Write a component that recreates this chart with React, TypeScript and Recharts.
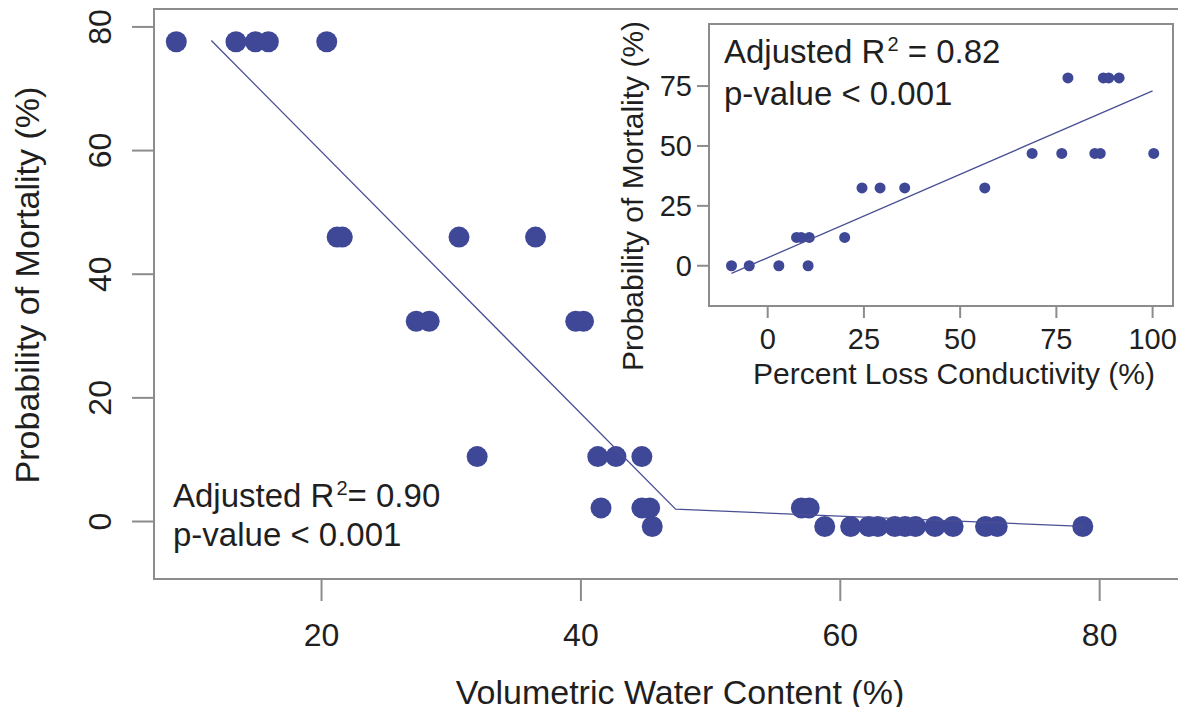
import React from "react";
import { ScatterChart, Scatter, XAxis, YAxis, ReferenceArea } from "recharts";

const FONT = '"Liberation Sans", Arial, Helvetica, sans-serif';
const DOT = "#3f4897";
const FIT = "#4a4f95";
const FRAME = "#8c8c8c";
const INK = "#1f1f1f";

// main panel: probability of mortality vs volumetric water content
const waterContent = [
  8.8, 13.4, 14.9, 15.9, 20.4,
  21.2, 21.6, 30.6, 36.5,
  27.3, 28.3, 39.6, 40.2,
  32.0, 41.3, 42.7, 44.7,
  41.55, 44.7, 45.3, 57.0, 57.6,
  45.5, 58.8, 60.8, 62.2, 62.9, 64.2, 65.0, 65.8, 67.3, 68.7, 71.2, 72.1, 78.7,
];
const mortality = [
  77.6, 77.6, 77.6, 77.6, 77.6,
  46.0, 46.0, 46.0, 46.0,
  32.4, 32.4, 32.4, 32.4,
  10.5, 10.5, 10.5, 10.5,
  2.2, 2.2, 2.2, 2.2, 2.2,
  -0.8, -0.8, -0.8, -0.8, -0.8, -0.8, -0.8, -0.8, -0.8, -0.8, -0.8, -0.8, -0.8,
];
// segmented regression fit
const fitWater = [11.5, 47.3, 78.7];
const fitMortality = [77.8, 2.0, -0.8];

// inset: probability of mortality vs percent loss conductivity
const lossConductivity = [
  -9.4, -4.8, 2.9, 10.5,
  7.5, 8.7, 10.8, 20.0,
  24.5, 29.2, 35.6, 56.4,
  68.7, 76.4, 85.0, 86.4, 100.3,
  78.0, 87.2, 88.6, 91.3,
];
const insetMortality = [
  0, 0, 0, 0,
  11.8, 11.8, 11.8, 11.8,
  32.5, 32.5, 32.5, 32.5,
  46.9, 46.9, 46.9, 46.9, 46.9,
  78.4, 78.4, 78.4, 78.4,
];
const fitLoss = [-9.4, 100];
const fitInset = [-3.2, 73.0];

const mainXTicks = [20, 40, 60, 80];
const mainYTicks = [0, 20, 40, 60, 80];
const insetXTicks = [0, 25, 50, 75, 100];
const insetYTicks = [0, 25, 50, 75];

const X_MAIN: [number, number] = [7.08, 88.2];
const Y_MAIN: [number, number] = [-9.3, 82.9];
const X_INSET: [number, number] = [-15.25, 105.3];
const Y_INSET: [number, number] = [-16.8, 100.9];

const pts = (xs: number[], ys: number[]) => xs.map((x, i) => ({ x, y: ys[i] }));

const mainDot = (p: any) => <circle cx={p.cx} cy={p.cy} r={10.5} fill={DOT} />;
const insetDot = (p: any) => <circle cx={p.cx} cy={p.cy} r={5.5} fill={DOT} />;
const noDot = () => <g />;

const tickLine = { stroke: FRAME, strokeWidth: 2 };

const RotatedTick = (props: any) => {
  const { y, payload } = props;
  return (
    <text
      x={111}
      y={y}
      transform={`rotate(-90, 111, ${y})`}
      textAnchor="middle"
      fontSize={32}
      fontFamily={FONT}
      fill={INK}
    >
      {payload.value}
    </text>
  );
};

export default function App() {
  return (
    <div
      style={{
        position: "relative",
        width: 1186,
        height: 715,
        margin: -8,
        overflow: "hidden",
        background: "#fff",
      }}
    >
      <div style={{ position: "absolute", left: 0, top: 0 }}>
        <ScatterChart width={1220} height={715} margin={{ top: 9, right: 14, bottom: 56, left: 94 }}>
          <XAxis
            type="number"
            dataKey="x"
            domain={X_MAIN}
            allowDataOverflow
            ticks={mainXTicks}
            axisLine={false}
            tickLine={tickLine}
            tickSize={22}
            tickMargin={22}
            height={80}
            tick={{ fill: INK, fontSize: 32, fontFamily: FONT }}
            label={{
              content: () => (
                <text x={680} y={704} textAnchor="middle" fontSize={34} fontFamily={FONT} fill={INK}>
                  Volumetric Water Content (%)
                </text>
              ),
            }}
          />
          <YAxis
            type="number"
            dataKey="y"
            domain={Y_MAIN}
            allowDataOverflow
            ticks={mainYTicks}
            width={60}
            axisLine={false}
            tickLine={tickLine}
            tickSize={22}
            tick={<RotatedTick />}
            label={{
              content: () => (
                <text
                  x={39}
                  y={285}
                  transform="rotate(-90, 39, 285)"
                  textAnchor="middle"
                  fontSize={34}
                  fontFamily={FONT}
                  fill={INK}
                >
                  Probability of Mortality (%)
                </text>
              ),
            }}
          />
          <ReferenceArea
            x1={X_MAIN[0]}
            x2={X_MAIN[1]}
            y1={Y_MAIN[0]}
            y2={Y_MAIN[1]}
            fill="none"
            stroke={FRAME}
            strokeWidth={2}
            ifOverflow="visible"
            label={{
              content: () => (
                <g fontFamily={FONT} fill={INK} fontSize={33}>
                  <text x={173} y={507}>
                    {"Adjusted R"}
                    <tspan dy={-12} dx={2} fontSize={20}>
                      2
                    </tspan>
                    <tspan dy={12}>{"= 0.90"}</tspan>
                  </text>
                  <text x={173} y={546}>
                    p-value &lt; 0.001
                  </text>
                </g>
              ),
            }}
          />
          <Scatter data={pts(waterContent, mortality)} shape={mainDot} isAnimationActive={false} />
          <Scatter
            data={pts(fitWater, fitMortality)}
            line={{ stroke: FIT, strokeWidth: 1.3 }}
            shape={noDot}
            isAnimationActive={false}
          />
        </ScatterChart>
      </div>

      <div style={{ position: "absolute", left: 580, top: 0 }}>
        <ScatterChart width={606} height={400} margin={{ top: 24, right: 13, bottom: 34, left: 49 }}>
          <XAxis
            type="number"
            dataKey="x"
            domain={X_INSET}
            allowDataOverflow
            ticks={insetXTicks}
            axisLine={false}
            tickLine={tickLine}
            tickSize={12}
            tickMargin={10}
            height={60}
            tick={{ fill: INK, fontSize: 29, fontFamily: FONT }}
            label={{
              content: () => (
                <text x={374} y={384} textAnchor="middle" fontSize={30} fontFamily={FONT} fill={INK}>
                  Percent Loss Conductivity (%)
                </text>
              ),
            }}
          />
          <YAxis
            type="number"
            dataKey="y"
            domain={Y_INSET}
            allowDataOverflow
            ticks={insetYTicks}
            width={80}
            axisLine={false}
            tickLine={tickLine}
            tickSize={12}
            tickMargin={5}
            tick={{ fill: INK, fontSize: 29, fontFamily: FONT }}
            label={{
              content: () => (
                <text
                  x={63}
                  y={196}
                  transform="rotate(-90, 63, 196)"
                  textAnchor="middle"
                  fontSize={30}
                  fontFamily={FONT}
                  fill={INK}
                >
                  Probability of Mortality (%)
                </text>
              ),
            }}
          />
          <ReferenceArea
            x1={X_INSET[0]}
            x2={X_INSET[1]}
            y1={Y_INSET[0]}
            y2={Y_INSET[1]}
            fill="none"
            stroke={FRAME}
            strokeWidth={2}
            ifOverflow="visible"
            label={{
              content: () => (
                <g fontFamily={FONT} fill={INK} fontSize={33}>
                  <text x={144} y={63}>
                    {"Adjusted R"}
                    <tspan dy={-12} dx={2} fontSize={20}>
                      2
                    </tspan>
                    <tspan dy={12}>{" = 0.82"}</tspan>
                  </text>
                  <text x={144} y={105}>
                    p-value &lt; 0.001
                  </text>
                </g>
              ),
            }}
          />
          <Scatter data={pts(lossConductivity, insetMortality)} shape={insetDot} isAnimationActive={false} />
          <Scatter
            data={pts(fitLoss, fitInset)}
            line={{ stroke: FIT, strokeWidth: 1.3 }}
            shape={noDot}
            isAnimationActive={false}
          />
        </ScatterChart>
      </div>
    </div>
  );
}
